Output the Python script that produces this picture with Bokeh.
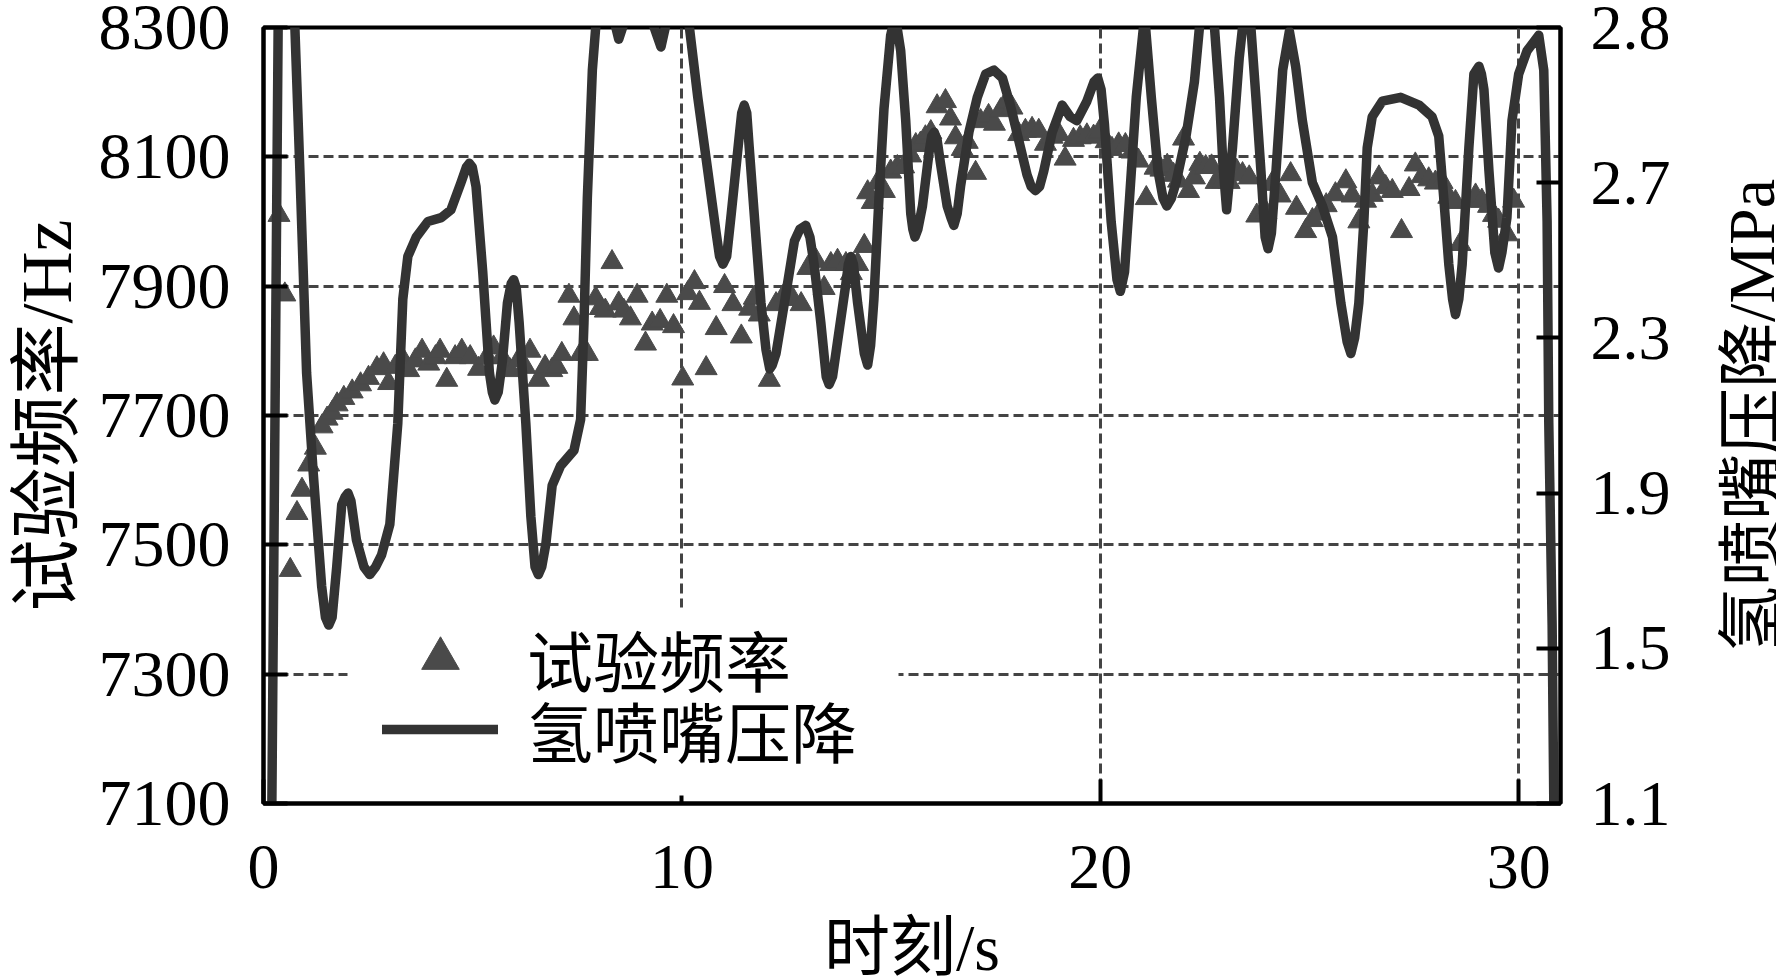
import math
from bokeh.plotting import figure
from bokeh.layouts import row
from bokeh.models import (Range1d, LinearAxis, FixedTicker, ColumnDataSource, Legend, LegendItem,
                          BoxAnnotation)
from bokeh.embed import file_html
from bokeh.resources import INLINE

# ---------------- data ----------------
x_ticks = [0, 10, 20, 30]
hz_ticks = [7100, 7300, 7500, 7700, 7900, 8100, 8300]
p_ticks = [1.1, 1.5, 1.9, 2.3, 2.7, 3.1]
p_tick_labels = {3.1: "2.8"}

freq_t = [0.37, 0.51, 0.64, 0.80, 0.92, 1.08, 1.24, 1.40, 1.52, 1.64, 1.76, 1.92, 2.12, 2.32, 2.51, 2.71, 2.87, 2.99,
          3.15, 3.31, 3.47, 3.63, 3.79, 3.95, 4.11, 4.22, 4.38, 4.58, 4.74, 4.94, 5.14, 5.34, 5.50, 5.70, 5.89, 6.09,
          6.25, 6.37, 6.57, 6.73, 6.89, 7.01, 7.13, 7.30, 7.42, 7.58, 7.74, 7.94, 8.05, 8.17, 8.33, 8.49, 8.61, 8.77,
          8.93, 9.13, 9.29, 9.48, 9.64, 9.80, 10.02, 10.14, 10.30, 10.42, 10.58, 10.82, 11.02, 11.22, 11.42, 11.62,
          11.73, 11.85, 12.09, 12.25, 12.45, 12.65, 12.85, 13.01, 13.21, 13.40, 13.56, 13.72, 13.92, 14.05, 14.20,
          14.36, 14.44, 14.55, 14.68, 14.84, 14.99, 15.15, 15.30, 15.47, 15.59, 15.70, 15.82, 15.95, 16.10, 16.30,
          16.42, 16.54, 16.70, 16.82, 17.02, 17.14, 17.33, 17.47, 17.62, 17.76, 17.89, 18.05, 18.21, 18.37, 18.53,
          18.69, 18.85, 19.01, 19.16, 19.36, 19.52, 19.68, 19.84, 19.98, 20.14, 20.28, 20.44, 20.60, 20.76, 20.91,
          21.10, 21.31, 21.45, 21.60, 21.75, 21.87, 21.99, 22.11, 22.25, 22.38, 22.52, 22.66, 22.77, 22.92, 23.08,
          23.26, 23.40, 23.56, 23.74, 23.96, 24.10, 24.30, 24.55, 24.69, 24.91, 25.07, 25.23, 25.40, 25.62, 25.87,
          26.02, 26.18, 26.34, 26.50, 26.66, 26.82, 26.98, 27.20, 27.38, 27.53, 27.69, 27.85, 28.01, 28.17, 28.33,
          28.49, 28.60, 28.81, 28.97, 29.12, 29.28, 29.40, 29.52, 29.72, 29.88]
freq_hz = [8010, 7887, 7461, 7549, 7585, 7624, 7650, 7683, 7695, 7704, 7717, 7727, 7737, 7748, 7758, 7773, 7779, 7750,
           7775, 7789, 7770, 7785, 7800, 7780, 7790, 7800, 7755, 7790, 7800, 7790, 7772, 7790, 7805, 7790, 7770, 7785,
           7775, 7800, 7755, 7775, 7770, 7775, 7795, 7885, 7850, 7795, 7795, 7881, 7866, 7862, 7937, 7873, 7862, 7850,
           7885, 7811, 7842, 7846, 7885, 7838, 7757, 7889, 7906, 7874, 7773, 7835, 7900, 7872, 7822, 7865,
           7882, 7856, 7755, 7872, 7887, 7880, 7872, 7928, 7939, 7897, 7934, 7939, 7934, 7920, 7934,
           7962, 8045, 8030, 8060, 8047, 8077, 8084, 8085, 8102, 8118, 8120, 8130, 8138, 8178, 8186,
           8159, 8130, 8112, 8123, 8075, 8155, 8163, 8151, 8172, 8185, 8176, 8135, 8140, 8143, 8140,
           8120, 8131, 8135, 8097, 8126, 8130, 8133, 8131, 8139, 8124, 8112, 8119, 8118, 8108, 8094,
           8036, 8083, 8080, 8086, 8072, 8063, 8128, 8047, 8068, 8089, 8084, 8085, 8061, 8062, 8061,
           8078, 8073, 8068, 8009, 8014, 8058, 8040, 8073, 8021, 7985, 8002, 8012, 8025, 8042, 8062,
           8040, 8000, 8032, 8041, 8068, 8053, 8047, 7985, 8050, 8088, 8070, 8065, 8060, 8061, 8038,
           8030, 7965, 8032, 8040, 8032, 8024, 8010, 8001, 7980, 8032]

press_t = [0.12, 0.20, 0.35, 0.55, 0.75, 0.87, 1.03, 1.19, 1.39, 1.48, 1.56, 1.64, 1.75, 1.87, 1.95, 2.02, 2.09,
           2.22, 2.40, 2.54, 2.68, 2.82, 3.02, 3.21, 3.33, 3.45, 3.65, 3.93, 4.25, 4.48, 4.72, 4.85, 4.92, 4.99,
           5.08, 5.24, 5.40, 5.47, 5.53, 5.61, 5.71, 5.83, 5.92, 5.98, 6.04, 6.11, 6.27, 6.39, 6.49, 6.57, 6.65,
           6.75, 6.90, 7.10, 7.42, 7.58, 7.66, 7.74, 7.86, 7.94, 8.15, 8.49, 8.95, 9.50, 9.85,
           10.18, 10.38, 10.62, 10.82, 10.90, 10.98, 11.07, 11.18, 11.38, 11.43, 11.49, 11.55, 11.61, 11.77, 11.89,
           12.01, 12.10, 12.16, 12.25, 12.45, 12.69, 12.82, 12.96, 13.06, 13.16, 13.32, 13.45, 13.52, 13.60, 13.72,
           13.92, 13.98, 14.04, 14.10, 14.20, 14.36, 14.44, 14.51, 14.59, 14.71, 14.83, 14.99, 15.10, 15.23, 15.35,
           15.47, 15.52, 15.57, 15.64, 15.75, 15.91, 15.97, 16.03, 16.10, 16.18, 16.34, 16.43, 16.50, 16.58, 16.66,
           16.86, 17.06, 17.26, 17.46, 17.66, 17.85, 18.05, 18.25, 18.35, 18.45, 18.55, 18.65, 18.85, 19.09, 19.28,
           19.44, 19.68, 19.85, 19.94, 20.02, 20.10, 20.26, 20.40, 20.48, 20.58, 20.70, 20.86, 21.06, 21.22, 21.38,
           21.50, 21.59, 21.70, 21.81, 22.05, 22.25, 22.37, 22.55, 22.73, 22.85, 22.93, 23.02, 23.16, 23.32, 23.40,
           23.50, 23.60, 23.72, 23.84, 23.94, 24.01, 24.09, 24.20, 24.36, 24.52, 24.67, 24.83, 25.07, 25.31, 25.55,
           25.75, 25.90, 25.99, 26.08, 26.18, 26.30, 26.38, 26.50, 26.74, 27.18, 27.62, 27.93, 28.09, 28.21, 28.33,
           28.42, 28.49, 28.57, 28.65, 28.81, 28.93, 28.99, 29.05, 29.11, 29.17, 29.29, 29.43, 29.52, 29.60, 29.72,
           29.84, 30.00, 30.20, 30.48, 30.60, 30.68, 30.72, 30.80, 30.84, 30.95]
press_mpa = [0.50, 1.10, 3.10, 3.60, 3.10, 2.73, 2.21, 1.95, 1.66, 1.58, 1.56, 1.58, 1.71, 1.87, 1.89, 1.90, 1.88,
             1.78, 1.71, 1.69, 1.71, 1.74, 1.82, 2.08, 2.40, 2.51, 2.56, 2.60, 2.61, 2.63, 2.70, 2.74, 2.75, 2.74,
             2.69, 2.47, 2.21, 2.16, 2.14, 2.16, 2.24, 2.39, 2.44, 2.45, 2.43, 2.34, 2.08, 1.84, 1.71, 1.69, 1.71,
             1.77, 1.92, 1.97, 2.01, 2.09, 2.34, 2.66, 2.99, 3.10, 3.22, 3.07, 3.22, 3.05, 3.22,
             3.10, 2.92, 2.73, 2.57, 2.51, 2.49, 2.51, 2.62, 2.83, 2.88, 2.90, 2.88, 2.79, 2.56, 2.39,
             2.27, 2.22, 2.23, 2.26, 2.39, 2.55, 2.58, 2.59, 2.56, 2.49, 2.34, 2.20, 2.18, 2.20, 2.29,
             2.44, 2.49, 2.51, 2.49, 2.39, 2.26, 2.23, 2.28, 2.40, 2.66, 2.89, 3.08, 3.13, 3.04, 2.86,
             2.62, 2.58, 2.56, 2.58, 2.64, 2.78, 2.82, 2.83, 2.81, 2.75, 2.64, 2.61, 2.59, 2.62, 2.69,
             2.83, 2.92, 2.98, 2.99, 2.97, 2.90, 2.81, 2.72, 2.69, 2.68, 2.69, 2.73, 2.83, 2.90, 2.87,
             2.86, 2.91, 2.96, 2.97, 2.94, 2.85, 2.60, 2.45, 2.42, 2.47, 2.66, 2.92, 3.13, 2.92, 2.73,
             2.66, 2.64, 2.66, 2.70, 2.82, 2.96, 3.10, 3.25, 3.10, 2.92, 2.75, 2.63, 2.79, 3.02, 3.10,
             3.16, 3.10, 2.92, 2.73, 2.56, 2.53, 2.57, 2.73, 2.99, 3.09, 3.00, 2.86, 2.70, 2.64, 2.56,
             2.39, 2.29, 2.26, 2.30, 2.39, 2.60, 2.79, 2.87, 2.91, 2.92, 2.90, 2.87, 2.82, 2.66, 2.49,
             2.40, 2.36, 2.40, 2.49, 2.79, 2.98, 2.99, 3.00, 2.98, 2.94, 2.73, 2.52, 2.48, 2.52, 2.61,
             2.86, 2.98, 3.04, 3.08, 2.99, 2.60, 2.08, 1.56, 1.10, 0.50]

# ---------------- styling ----------------
FONT = "Liberation Serif, Noto Sans CJK SC"

fig = figure(frame_width=1297, frame_height=776,
             min_border_left=263, min_border_right=112, min_border_top=27, min_border_bottom=175,
             x_range=Range1d(0, 31), y_range=Range1d(7100, 8300),
             output_backend="svg", toolbar_location=None,
             background_fill_color="white", border_fill_color="white")
fig.extra_y_ranges = {"p": Range1d(1.1, 3.1)}

fig.outline_line_color = "black"
fig.outline_line_width = 4
fig.outline_line_alpha = 1

right = LinearAxis(y_range_name="p")
fig.add_layout(right, "right")

bottom = fig.xaxis[0]
left = fig.yaxis[0]
bottom.ticker = FixedTicker(ticks=x_ticks)
left.ticker = FixedTicker(ticks=hz_ticks)
right.ticker = FixedTicker(ticks=p_ticks)
right.major_label_overrides = p_tick_labels

for ax in [bottom, left, right]:
    ax.major_label_text_font = FONT
    ax.major_label_text_font_size = "64px"
    ax.major_label_text_color = "black"
    ax.major_tick_in = 24
    ax.major_tick_out = 0
    ax.major_tick_line_width = 4
    ax.major_tick_line_color = "black"
    ax.minor_tick_line_color = None
    ax.axis_line_color = "black"
    ax.axis_line_width = 4
    ax.axis_label_text_font = FONT
    ax.axis_label_text_font_style = "normal"
    ax.axis_label_text_color = "black"

left.major_label_text_font_size = "66px"
bottom.major_label_standoff = 42
left.major_label_standoff = 33
right.major_label_standoff = 30

left.axis_label = "试验频率/Hz"
left.axis_label_text_font_size = "72px"
left.axis_label_standoff = 9

bottom.axis_label = "时刻/s"
bottom.axis_label_text_font_size = "66px"
bottom.axis_label_standoff = 20

fig.xgrid.ticker = FixedTicker(ticks=x_ticks)
for g in [fig.xgrid, fig.ygrid]:
    g.grid_line_color = "#444444"
    g.grid_line_width = 3
    g.grid_line_dash = "10 5"

freq_src = ColumnDataSource(dict(t=freq_t, hz=freq_hz))
press_src = ColumnDataSource(dict(t=press_t, mpa=press_mpa))

tri_r = fig.scatter("t", "hz", source=freq_src, marker="triangle", size=22,
                    fill_color="#4a4a4a", line_color="#4a4a4a", line_width=1)
line_r = fig.line("t", "mpa", source=press_src, y_range_name="p", line_color="#333333",
                  line_width=9.5, line_join="round", line_cap="round")

# white legend background
fig.add_layout(BoxAnnotation(left=84, right=635, bottom=8, top=196,
                             left_units="screen", right_units="screen",
                             bottom_units="screen", top_units="screen",
                             fill_color="white", fill_alpha=1.0, line_color=None))


def make_legend(label, renderer, loc):
    lg = Legend(items=[LegendItem(label=label, renderers=[renderer])], location=loc)
    lg.label_text_font = FONT
    lg.label_text_font_size = "66px"
    lg.label_text_color = "black"
    lg.glyph_width = 116
    lg.glyph_height = 94
    lg.label_height = 94
    lg.label_standoff = 29
    lg.padding = 0
    lg.spacing = 0
    lg.margin = 0
    lg.border_line_color = None
    lg.background_fill_alpha = 0.0
    return lg


fig.add_layout(make_legend("试验频率", tri_r, (119, 97)))
fig.add_layout(make_legend("氢喷嘴压降", line_r, (119, 26)))

# narrow companion figure carrying the right-hand title (reads bottom-to-top)
side = figure(frame_width=1, frame_height=776,
              min_border_left=114, min_border_right=0, min_border_top=27, min_border_bottom=175,
              x_range=Range1d(0, 1), y_range=Range1d(0, 1),
              x_axis_location=None, output_backend="svg", toolbar_location=None,
              background_fill_color="white", border_fill_color="white")
side.outline_line_color = None
side.grid.visible = False
sax = side.yaxis[0]
sax.ticker = FixedTicker(ticks=[])
sax.major_tick_in = 0
sax.major_tick_out = 0
sax.minor_tick_line_color = None
sax.axis_line_color = None
sax.axis_label = "氢喷嘴压降/MPa"
sax.axis_label_text_font = FONT
sax.axis_label_text_font_size = "66px"
sax.axis_label_text_font_style = "normal"
sax.axis_label_text_color = "black"
sax.axis_label_standoff = 0

p = row(fig, side)

open("out.html", "w").write(file_html(p, INLINE))
